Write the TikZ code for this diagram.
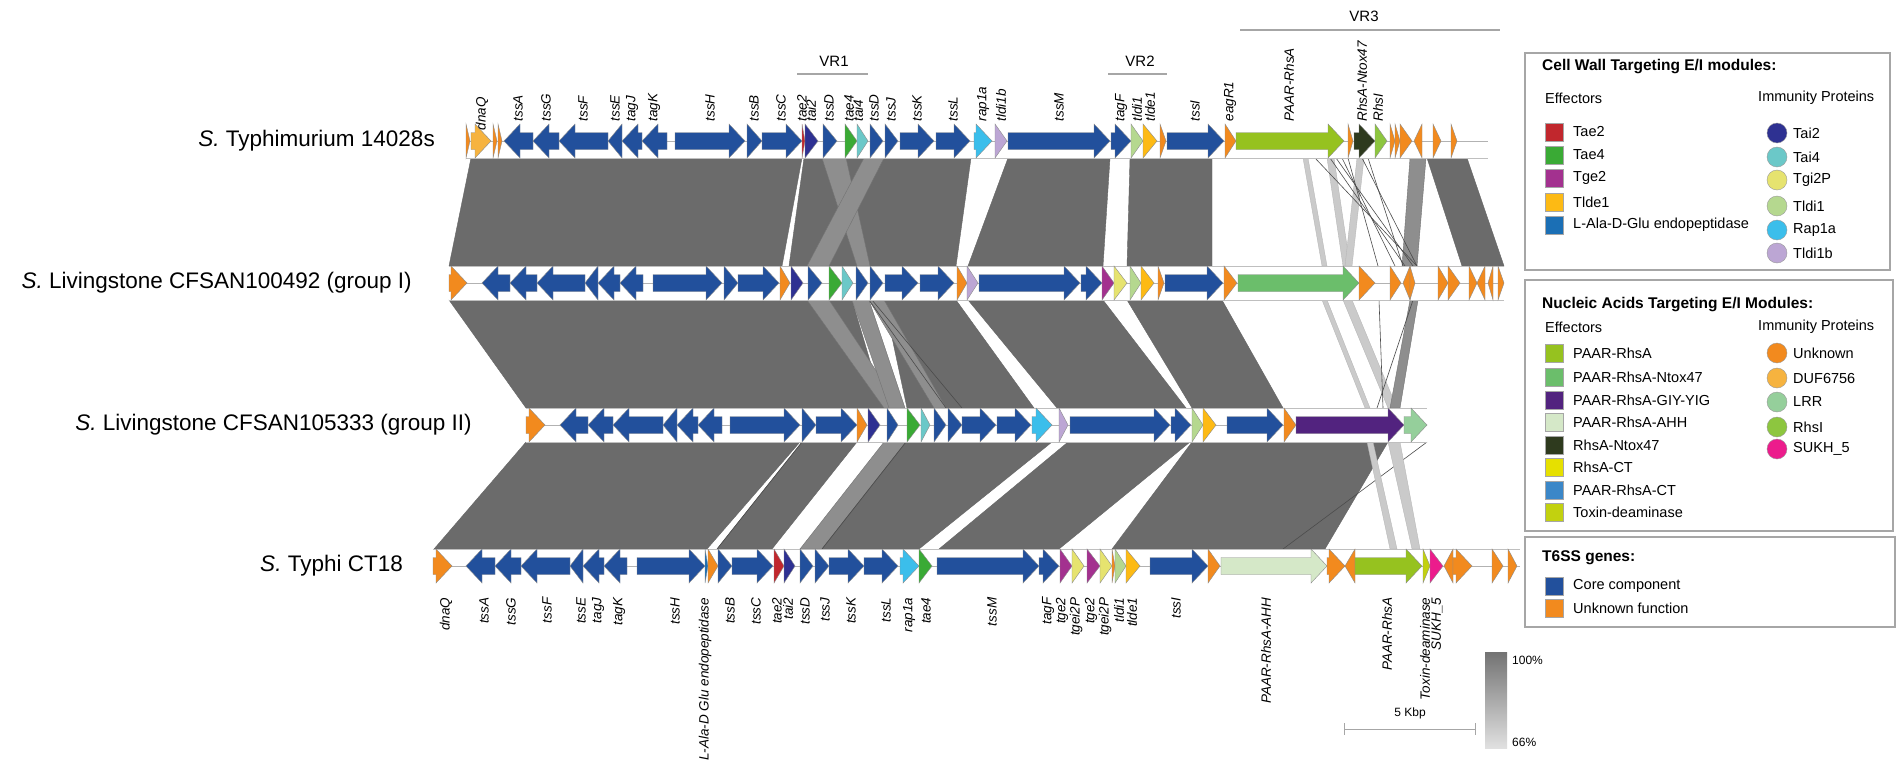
\documentclass[tikz,border=0pt]{standalone}
\usepackage{fontspec}
\setmainfont{Liberation Sans}
\usetikzlibrary{calc}
\definecolor{core}{HTML}{22509C}
\definecolor{unk}{HTML}{F28A1E}
\definecolor{tae2}{HTML}{C1272D}
\definecolor{tae4}{HTML}{3AAA35}
\definecolor{tge2}{HTML}{A3318F}
\definecolor{tlde1}{HTML}{FDBA14}
\definecolor{lala}{HTML}{1B6FB5}
\definecolor{tai2}{HTML}{2E3192}
\definecolor{tai4}{HTML}{6BC8C8}
\definecolor{tgi2p}{HTML}{E6E36F}
\definecolor{tldi1}{HTML}{B5D88F}
\definecolor{rap1a}{HTML}{3BBEEB}
\definecolor{tldi1b}{HTML}{BCA6D4}
\definecolor{paar}{HTML}{96C21F}
\definecolor{ntoxp}{HTML}{6BBE6B}
\definecolor{giy}{HTML}{52237F}
\definecolor{ahh}{HTML}{D5E8C8}
\definecolor{ntox}{HTML}{2E3A1E}
\definecolor{rhsct}{HTML}{E6E000}
\definecolor{paarct}{HTML}{3B87C8}
\definecolor{toxd}{HTML}{C2D10F}
\definecolor{duf}{HTML}{F6B33F}
\definecolor{lrr}{HTML}{95CF9B}
\definecolor{rhsi}{HTML}{8DC63F}
\definecolor{sukh}{HTML}{EC1C8C}
\definecolor{cmpd}{HTML}{6B6B6B}
\definecolor{cmpm}{HTML}{8E8E8E}
\definecolor{cmpl}{HTML}{CACACA}
\newcounter{lbl}
\tikzset{
  gene/.style={draw=black!45, line width=0.4pt},
  dk/.style={fill=cmpd, draw=black!60, line width=0.4pt},
  md/.style={fill=cmpm, draw=black!55, line width=0.4pt},
  lg/.style={fill=cmpl, draw=black!30, line width=0.3pt},
  thinl/.style={draw=black!70, line width=0.6pt},
  backbone/.style={draw=black!30, line width=0.9pt},
  bandedge/.style={draw=black!25, line width=0.8pt},
  glabel/.style={font=\fontsize{13.5}{14}\selectfont\itshape, inner sep=0.5pt},
  rowlab/.style={font=\fontsize{22.5}{26}\selectfont, inner sep=0pt},
  vrlab/.style={font=\fontsize{15}{17}\selectfont, inner sep=0pt},
  vrline/.style={draw=black!35, line width=1.2pt},
  legbox/.style={draw=black!35, line width=1.2pt},
  legtitle/.style={font=\fontsize{15.5}{17}\selectfont\bfseries, anchor=west, inner sep=0pt},
  legtext/.style={font=\fontsize{14.5}{16}\selectfont, anchor=west, inner sep=0pt},
  sw/.style={draw=black!35, line width=0.4pt, minimum size=18pt, inner sep=0pt},
  cw/.style={circle, draw=black!40, line width=0.4pt, minimum size=20pt, inner sep=0pt},
  small/.style={font=\fontsize{12}{14}\selectfont, inner sep=0pt}
}
% forward gene: x1 x2 y colour
\newcommand{\gf}[4]{\pgfmathsetmacro{\gHL}{min(16,#2-#1)}\pgfmathsetmacro{\gXB}{#2-\gHL}%
  \filldraw[gene,fill=#4] (#1,#3-8.5) -- (\gXB,#3-8.5) -- (\gXB,#3-17) -- (#2,#3) -- (\gXB,#3+17) -- (\gXB,#3+8.5) -- (#1,#3+8.5) -- cycle;}
% reverse gene: x1 x2 y colour (tip at x1)
\newcommand{\gr}[4]{\pgfmathsetmacro{\gHL}{min(16,#2-#1)}\pgfmathsetmacro{\gXB}{#1+\gHL}%
  \filldraw[gene,fill=#4] (#2,#3-8.5) -- (\gXB,#3-8.5) -- (\gXB,#3-17) -- (#1,#3) -- (\gXB,#3+17) -- (\gXB,#3+8.5) -- (#2,#3+8.5) -- cycle;}
% comparison: ya yb a1 a2 b2 b1 style
\newcommand{\cmp}[7]{\filldraw[#7] (#3,#1) -- (#4,#1) -- (#5,#2) -- (#6,#2) -- cycle;}
\newcommand{\cln}[4]{\draw[thinl] (#3,#1) -- (#4,#2);}
\newcommand{\gtop}[3][122]{\stepcounter{lbl}\node[glabel,rotate=90,anchor=west] (l\arabic{lbl}) at (#2,#1) {#3};}
\newcommand{\gbot}[2]{\stepcounter{lbl}\node[glabel,rotate=90,anchor=east] (l\arabic{lbl}) at (#1,597) {#2};}
\newcommand{\lsq}[3]{\stepcounter{lbl}\node[sw,fill=#2] (s\arabic{lbl}) at (1554,#1) {};\node[legtext] (t\arabic{lbl}) at (1573,#1) {#3};}
\newcommand{\lci}[3]{\stepcounter{lbl}\node[cw,fill=#2] (c\arabic{lbl}) at (1777,#1) {};\node[legtext] (t\arabic{lbl}) at (1793,#1) {#3};}

\begin{document}
\begin{tikzpicture}[x=1pt,y=-1pt]
\fill[white] (0,0) rectangle (1902,761);
\useasboundingbox (0,0) rectangle (1902,761);

% ---------------- comparisons rows 1-2
\cmp{158}{266}{471}{802}{782}{449}{dk}
\cmp{158}{266}{804}{971}{956}{789}{dk}
\cmp{158}{266}{822}{846}{870}{857}{md}
\cmp{158}{266}{864}{884}{829}{807}{md}
\cmp{158}{266}{1008}{1110}{1103}{968}{dk}
\cmp{158}{266}{1130}{1212}{1212}{1127}{dk}
\cmp{158}{266}{1303}{1308}{1327}{1322}{lg}
\cmp{158}{266}{1327}{1334}{1350}{1343}{lg}
\cmp{158}{266}{1357}{1364}{1352}{1345}{lg}
\cmp{158}{266}{1410}{1426}{1417}{1402}{md}
\cmp{158}{266}{1427}{1467}{1504}{1462}{dk}
\cln{158}{266}{1315}{1417}
\cln{158}{266}{1330}{1405}
\cln{158}{266}{1336}{1413}
\cln{158}{266}{1348}{1378}
\cln{158}{266}{1362}{1417}
\cln{158}{266}{1368}{1403}
\cln{158}{266}{1342}{1395}
% ---------------- comparisons rows 2-3
\cmp{300}{408}{449}{852}{884}{526}{dk}
\cmp{300}{408}{884}{956}{1034}{907}{dk}
\cmp{300}{408}{807}{829}{901}{884}{md}
\cmp{300}{408}{852}{869}{905}{889}{md}
\cmp{300}{408}{869}{884}{946}{934}{md}
\cln{300}{408}{869}{946}
\cln{300}{408}{872}{962}
\cmp{300}{408}{968}{1103}{1186}{1057}{dk}
\cmp{300}{408}{1127}{1222}{1283}{1192}{dk}
\cmp{300}{408}{1322}{1327}{1370}{1365}{lg}
\cmp{300}{408}{1343}{1352}{1397}{1388}{lg}
\cmp{300}{408}{1410}{1418}{1400}{1390}{md}
\cln{300}{408}{1379}{1383}
\cln{300}{408}{1413}{1377}
% ---------------- comparisons rows 3-4
\cmp{442}{549}{526}{800}{707}{434}{dk}
\cmp{442}{549}{802}{857}{772}{717}{dk}
\cln{442}{549}{802}{717}
\cmp{442}{549}{884}{906}{822}{800}{md}
\cmp{442}{549}{906}{1052}{919}{822}{dk}
\cln{442}{549}{906}{822}
\cmp{442}{549}{1068}{1190}{1059}{939}{dk}
\cmp{442}{549}{1192}{1388}{1325}{1112}{dk}
\cln{442}{549}{1427}{1283}
\cmp{442}{549}{1367}{1373}{1397}{1390}{lg}
\cmp{442}{549}{1388}{1400}{1420}{1412}{lg}

% ---------------- row bands
\foreach \ya/\yb/\xa/\xb in {124/158/466/1488, 266/300/449/1504, 408/442/526/1427, 549/583/433/1520}{
  \fill[white] (\xa,\ya) rectangle (\xb,\yb);
}
\draw[bandedge] (466,158) -- (1488,158);
\draw[bandedge] (449,266) -- (1504,266);
\draw[bandedge] (449,300) -- (1504,300);
\draw[bandedge] (526,408) -- (1427,408);
\draw[bandedge] (526,442) -- (1427,442);
\draw[bandedge] (433,549) -- (1520,549);
\draw[backbone] (466,141) -- (1488,141);
\draw[backbone] (449,283) -- (1504,283);
\draw[backbone] (526,425) -- (1427,425);
\draw[backbone] (433,566) -- (1520,566);

% ---------------- row 1 genes
\gf{466}{470}{141}{unk}
\gf{471}{491}{141}{duf}
\gf{493}{497}{141}{unk}
\gf{498}{502}{141}{unk}
\gr{504}{533}{141}{core}
\gr{533}{559}{141}{core}
\gr{559}{608}{141}{core}
\gr{608}{622}{141}{core}
\gr{622}{642}{141}{core}
\gr{642}{667}{141}{core}
\gf{675}{745}{141}{core}
\gf{747}{762}{141}{core}
\gf{762}{802}{141}{core}
\gf{802}{805}{141}{tae2}
\gf{805}{818}{141}{tai2}
\gf{823}{837}{141}{core}
\gf{845}{857}{141}{tae4}
\gf{857}{868}{141}{tai4}
\gf{870}{883}{141}{core}
\gf{885}{898}{141}{core}
\gf{900}{934}{141}{core}
\gf{936}{970}{141}{core}
\gf{974}{992}{141}{rap1a}
\gf{995}{1007}{141}{tldi1b}
\gf{1008}{1110}{141}{core}
\gf{1111}{1131}{141}{core}
\gf{1131}{1143}{141}{tldi1}
\gf{1143}{1157}{141}{tlde1}
\gf{1160}{1166}{141}{unk}
\gf{1167}{1224}{141}{core}
\gf{1225}{1236}{141}{unk}
\gf{1236}{1344}{141}{paar}
\gf{1348}{1353}{141}{unk}
\gf{1354}{1375}{141}{ntox}
\gf{1375}{1387}{141}{rhsi}
\gf{1390}{1395}{141}{unk}
\gf{1395}{1400}{141}{unk}
\gf{1400}{1412}{141}{unk}
\gr{1414}{1422}{141}{unk}
\gf{1433}{1441}{141}{unk}
\gf{1451}{1457}{141}{unk}

% ---------------- row 2 genes
\gf{449}{467}{283}{unk}
\gr{482}{510}{283}{core}
\gr{510}{537}{283}{core}
\gr{537}{585}{283}{core}
\gr{585}{598}{283}{core}
\gr{598}{620}{283}{core}
\gr{620}{643}{283}{core}
\gf{653}{722}{283}{core}
\gf{724}{738}{283}{core}
\gf{738}{779}{283}{core}
\gf{780}{790}{283}{unk}
\gf{791}{803}{283}{tai2}
\gf{808}{822}{283}{core}
\gf{829}{842}{283}{tae4}
\gf{842}{853}{283}{tai4}
\gf{856}{868}{283}{core}
\gf{870}{883}{283}{core}
\gf{885}{918}{283}{core}
\gf{920}{954}{283}{core}
\gf{957}{967}{283}{unk}
\gf{967}{978}{283}{tldi1b}
\gf{979}{1080}{283}{core}
\gf{1081}{1102}{283}{core}
\gf{1102}{1114}{283}{tge2}
\gf{1114}{1127}{283}{tgi2p}
\gf{1130}{1141}{283}{tldi1}
\gf{1141}{1154}{283}{tlde1}
\gf{1158}{1164}{283}{unk}
\gf{1165}{1223}{283}{core}
\gf{1224}{1237}{283}{unk}
\gf{1238}{1359}{283}{ntoxp}
\gf{1359}{1375}{283}{unk}
\gf{1390}{1401}{283}{unk}
\gr{1403}{1410}{283}{unk}
\gf{1410}{1415}{283}{unk}
\gf{1438}{1448}{283}{unk}
\gf{1448}{1460}{283}{unk}
\gf{1469}{1477}{283}{unk}
\gr{1477}{1485}{283}{unk}
\gr{1488}{1493}{283}{unk}
\gf{1498}{1504}{283}{unk}

% ---------------- row 3 genes
\gf{526}{545}{425}{unk}
\gr{560}{588}{425}{core}
\gr{588}{613}{425}{core}
\gr{613}{663}{425}{core}
\gr{663}{677}{425}{core}
\gr{677}{698}{425}{core}
\gr{698}{722}{425}{core}
\gf{730}{800}{425}{core}
\gf{802}{816}{425}{core}
\gf{816}{857}{425}{core}
\gf{857}{867}{425}{unk}
\gf{868}{880}{425}{tai2}
\gf{887}{898}{425}{core}
\gf{907}{920}{425}{tae4}
\gf{921}{930}{425}{tai4}
\gf{934}{946}{425}{core}
\gf{948}{962}{425}{core}
\gf{962}{996}{425}{core}
\gf{997}{1031}{425}{core}
\gf{1032}{1052}{425}{rap1a}
\gf{1059}{1068}{425}{tldi1b}
\gf{1070}{1170}{425}{core}
\gf{1171}{1191}{425}{core}
\gf{1192}{1203}{425}{tldi1}
\gf{1203}{1216}{425}{tlde1}
\gf{1227}{1283}{425}{core}
\gf{1284}{1296}{425}{unk}
\gf{1296}{1404}{425}{giy}
\gf{1404}{1427}{425}{lrr}

% ---------------- row 4 genes
\gf{433}{452}{566}{unk}
\gr{466}{495}{566}{core}
\gr{495}{521}{566}{core}
\gr{521}{570}{566}{core}
\gr{570}{583}{566}{core}
\gr{583}{604}{566}{core}
\gr{604}{627}{566}{core}
\gf{637}{705}{566}{core}
\gf{705}{708}{566}{lala}
\gf{708}{718}{566}{unk}
\gf{718}{732}{566}{core}
\gf{732}{773}{566}{core}
\gf{774}{784}{566}{tae2}
\gf{784}{795}{566}{tai2}
\gf{800}{813}{566}{core}
\gf{815}{829}{566}{core}
\gf{829}{864}{566}{core}
\gf{864}{898}{566}{core}
\gf{900}{919}{566}{rap1a}
\gf{919}{932}{566}{tae4}
\gf{937}{1039}{566}{core}
\gf{1039}{1059}{566}{core}
\gf{1060}{1072}{566}{tge2}
\gf{1072}{1084}{566}{tgi2p}
\gf{1087}{1100}{566}{tge2}
\gf{1100}{1112}{566}{tgi2p}
\gf{1112}{1115}{566}{unk}
\gf{1115}{1126}{566}{tldi1}
\gf{1126}{1140}{566}{tlde1}
\gf{1150}{1208}{566}{core}
\gf{1208}{1220}{566}{unk}
\gf{1221}{1327}{566}{ahh}
\gf{1327}{1345}{566}{unk}
\gr{1345}{1355}{566}{unk}
\gf{1355}{1422}{566}{paar}
\gf{1423}{1430}{566}{toxd}
\gf{1430}{1443}{566}{sukh}
\gr{1444}{1453}{566}{unk}
\gf{1453}{1472}{566}{unk}
\gf{1492}{1503}{566}{unk}
\gf{1508}{1517}{566}{unk}

% ---------------- row labels
\node[rowlab,anchor=east] (r1) at (435,141) {\textit{S.} Typhimurium 14028s};
\node[rowlab,anchor=east] (r2) at (412,283) {\textit{S.} Livingstone CFSAN100492 (group I)};
\node[rowlab,anchor=east] (r3) at (472,425) {\textit{S.} Livingstone CFSAN105333 (group II)};
\node[rowlab,anchor=east] (r4) at (403,566) {\textit{S.} Typhi CT18};

% ---------------- top gene labels
\gtop[131]{482}{dnaQ}
\gtop{518}{tssA}
\gtop{546}{tssG}
\gtop{583}{tssF}
\gtop{615}{tssE}
\gtop{632}{tagJ}
\gtop{654}{tagK}
\gtop{710}{tssH}
\gtop{754}{tssB}
\gtop{781}{tssC}
\gtop{802}{tae2}
\gtop{811}{tai2}
\gtop{829}{tssD}
\gtop{849}{tae4}
\gtop{858}{tai4}
\gtop{874}{tssD}
\gtop{891}{tssJ}
\gtop{917}{tssK}
\gtop{953}{tssL}
\gtop{983}{rap1a}
\gtop{1001}{tldi1b}
\gtop{1059}{tssM}
\gtop{1121}{tagF}
\gtop{1137}{tldi1}
\gtop{1150}{tlde1}
\gtop{1195}{tssI}
\gtop{1230}{eagR1}
\gtop{1289}{PAAR-RhsA}
\gtop{1362}{RhsA-Ntox47}
\gtop{1378}{RhsI}

% ---------------- bottom gene labels
\gbot{446}{dnaQ}
\gbot{484}{tssA}
\gbot{511}{tssG}
\gbot{547}{tssF}
\gbot{581}{tssE}
\gbot{598}{tagJ}
\gbot{619}{tagK}
\gbot{675}{tssH}
\gbot{705}{L-Ala-D Glu endopeptidase}
\gbot{730}{tssB}
\gbot{756}{tssC}
\gbot{777}{tae2}
\gbot{788}{tai2}
\gbot{805}{tssD}
\gbot{825}{tssJ}
\gbot{851}{tssK}
\gbot{886}{tssL}
\gbot{909}{rap1a}
\gbot{926}{tae4}
\gbot{992}{tssM}
\gbot{1048}{tagF}
\gbot{1062}{tge2}
\gbot{1076}{tgei2P}
\gbot{1091}{tge2}
\gbot{1105}{tgei2P}
\gbot{1119}{tldi1}
\gbot{1132}{tlde1}
\gbot{1176}{tssI}
\gbot{1266}{PAAR-RhsA-AHH}
\gbot{1387}{PAAR-RhsA}
\gbot{1425}{Toxin-deaminase}
\gbot{1437}{SUKH\_5}

% ---------------- VR labels
\node[vrlab] (vr1) at (834,61) {VR1};
\draw[vrline] (797,74) -- (868,74);
\node[vrlab] (vr2) at (1140,61) {VR2};
\draw[vrline] (1108,74) -- (1167,74);
\node[vrlab] (vr3) at (1364,16) {VR3};
\draw[vrline] (1240,30) -- (1500,30);

% ---------------- legend box 1
\draw[legbox] (1525,53) rectangle (1890,270);
\node[legtitle] (lt1) at (1542,67) {Cell Wall Targeting E/I modules:};
\node[legtext] (le1) at (1545,98) {Effectors};
\node[legtext] (li1) at (1758,98) {Immunity Proteins};
\lsq{132}{tae2}{Tae2}
\lsq{155}{tae4}{Tae4}
\lsq{178}{tge2}{Tge2}
\lsq{202}{tlde1}{Tlde1}
\lsq{225}{lala}{L-Ala-D-Glu endopeptidase}
\lci{133}{tai2}{Tai2}
\lci{157}{tai4}{Tai4}
\lci{180}{tgi2p}{Tgi2P}
\lci{206}{tldi1}{Tldi1}
\lci{230}{rap1a}{Rap1a}
\lci{253}{tldi1b}{Tldi1b}

% ---------------- legend box 2
\draw[legbox] (1525,280) rectangle (1893,531);
\node[legtitle] (lt2) at (1542,305) {Nucleic Acids Targeting E/I Modules:};
\node[legtext] (le2) at (1545,327) {Effectors};
\node[legtext] (li2) at (1758,327) {Immunity Proteins};
\lsq{353}{paar}{PAAR-RhsA}
\lsq{377}{ntoxp}{PAAR-RhsA-Ntox47}
\lsq{400}{giy}{PAAR-RhsA-GIY-YIG}
\lsq{422}{ahh}{PAAR-RhsA-AHH}
\lsq{445}{ntox}{RhsA-Ntox47}
\lsq{467}{rhsct}{RhsA-CT}
\lsq{490}{paarct}{PAAR-RhsA-CT}
\lsq{512}{toxd}{Toxin-deaminase}
\lci{353}{unk}{Unknown}
\lci{378}{duf}{DUF6756}
\lci{402}{lrr}{LRR}
\lci{427}{rhsi}{RhsI}
\lci{449}{sukh}{SUKH\_5}

% ---------------- legend box 3
\draw[legbox] (1525,537) rectangle (1895,627);
\node[legtitle] (lt3) at (1542,558) {T6SS genes:};
\lsq{586}{core}{Core component}
\lsq{608}{unk}{Unknown function}

% ---------------- scale bar and identity gradient
\coordinate (sb1) at (1344,729);
\coordinate (sb2) at (1475,729);
\draw[draw=black!35, line width=1pt] (sb1) -- (sb2);
\draw[draw=black!35, line width=1pt] ($(sb1)+(0,-6)$) -- ($(sb1)+(0,6)$);
\draw[draw=black!35, line width=1pt] ($(sb2)+(0,-6)$) -- ($(sb2)+(0,6)$);
\node[small] (kbp) at (1410,713) {5 Kbp};
\shade[top color=black!55, bottom color=black!12] (1485,652) rectangle (1507,748);
\node[small,anchor=west] (p100) at (1512,660) {100\%};
\node[small,anchor=west] (p66) at (1512,742) {66\%};
\end{tikzpicture}
\end{document}
